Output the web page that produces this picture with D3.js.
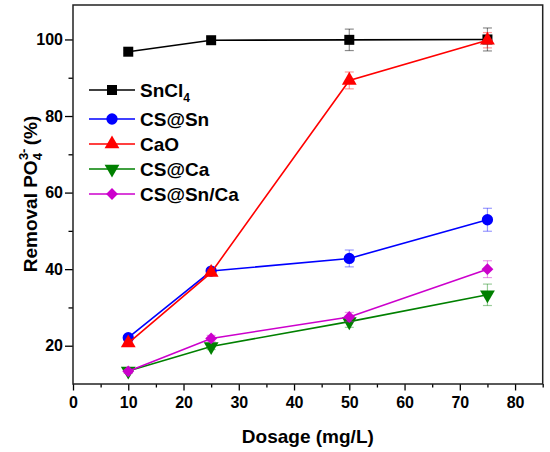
<!DOCTYPE html>
<html>
<head>
<meta charset="utf-8">
<script src="https://cdn.jsdelivr.net/npm/d3@7"></script>
<style>
    body { margin: 0; background: #fff; }
    text { font-family: "Liberation Sans", Arial, sans-serif; font-weight: bold; fill: #000; }
    .axis path { display: none; }
    .axis line { stroke: #000; stroke-width: 1.3; }
</style>
</head>
<body>
<script>
(function () {

    //data
    var dosage = [10, 25, 50, 75];
    var seriesNames = ["SnCl4", "CS@Sn", "CaO", "CS@Ca", "CS@Sn/Ca"];
    var snCl4 = [96.8, 99.8, 99.9, 100];
    var csSn = [22.1, 39.5, 42.8, 52.9];
    var caO = [20.7, 39.1, 89.3, 99.8];
    var csCa = [13.4, 19.8, 26.3, 33.3];
    var csSnCa = [13.3, 21.9, 27.5, 40.0];
    var snCl4Err = [0.4, 0.8, 2.8, 3.0];
    var csSnErr = [0.5, 0.6, 2.2, 3.0];
    var caOErr = [0.5, 0.8, 2.2, 2.0];
    var csCaErr = [0.5, 0.8, 1.5, 2.8];
    var csSnCaErr = [0.5, 0.8, 1.2, 2.2];
    var xTicks = [0, 10, 20, 30, 40, 50, 60, 70, 80];
    var yTicks = [20, 40, 60, 80, 100];

    var values = [snCl4, csSn, caO, csCa, csSnCa];
    var errors = [snCl4Err, csSnErr, caOErr, csCaErr, csSnCaErr];
    var colors = ["#000000", "#0000ff", "#ff0000", "#008000", "#cc00cc"];
    var symbols = [d3.symbolSquare, d3.symbolCircle, d3.symbolTriangle, d3.symbolTriangle, d3.symbolSquare];
    var symbolSizes = [100, 100, 95, 95, 70];
    var rotations = [0, 0, 0, 180, 45];

    var width = 550, height = 452;
    var left = 73, top = 5, right = 542.7, bottom = 384;

    var svg = d3.select("body").append("svg")
        .attr("width", width)
        .attr("height", height);

    var x = d3.scaleLinear().domain([0, 85]).range([left, right]);
    var y = d3.scaleLinear().domain([10, 109]).range([bottom, top]);

    //minor ticks
    svg.append("g").attr("class", "axis")
        .attr("transform", "translate(0," + bottom + ")")
        .call(d3.axisBottom(x).tickValues([5, 15, 25, 35, 45, 55, 65, 75, 85]).tickSize(3.5).tickFormat(""));
    svg.append("g").attr("class", "axis")
        .attr("transform", "translate(" + left + ",0)")
        .call(d3.axisLeft(y).tickValues([30, 50, 70, 90]).tickSize(4.5).tickFormat(""));

    //major ticks
    var xAxis = svg.append("g").attr("class", "axis")
        .attr("transform", "translate(0," + bottom + ")")
        .call(d3.axisBottom(x).tickValues(xTicks).tickSize(6.5).tickPadding(6));
    xAxis.selectAll("text").style("font-size", "16px");

    var yAxis = svg.append("g").attr("class", "axis")
        .attr("transform", "translate(" + left + ",0)")
        .call(d3.axisLeft(y).tickValues(yTicks).tickSize(8).tickPadding(2));
    yAxis.selectAll("text").style("font-size", "16px");

    //frame
    svg.append("rect")
        .attr("x", left).attr("y", top)
        .attr("width", right - left).attr("height", bottom - top)
        .attr("fill", "none")
        .attr("stroke", "#222")
        .attr("stroke-width", 1.5);

    var line = d3.line()
        .x(function (d, i) { return x(dosage[i]); })
        .y(function (d) { return y(d); });

    values.forEach(function (vals, s) {
        var g = svg.append("g");
        var err = errors[s];

        //error bars
        var eb = g.selectAll(".err")
            .data(vals)
            .enter()
            .append("g")
            .attr("stroke", colors[s])
            .attr("stroke-opacity", s == 0 ? 0.45 : 0.4)
            .attr("stroke-width", 1.2);
        eb.append("line")
            .attr("x1", function (d, i) { return x(dosage[i]); })
            .attr("x2", function (d, i) { return x(dosage[i]); })
            .attr("y1", function (d, i) { return y(d - err[i]); })
            .attr("y2", function (d, i) { return y(d + err[i]); });
        [1, -1].forEach(function (sign) {
            eb.append("line")
                .attr("x1", function (d, i) { return x(dosage[i]) - 4.5; })
                .attr("x2", function (d, i) { return x(dosage[i]) + 4.5; })
                .attr("y1", function (d, i) { return y(d + sign * err[i]); })
                .attr("y2", function (d, i) { return y(d + sign * err[i]); });
        });

        g.append("path")
            .datum(vals)
            .attr("fill", "none")
            .attr("stroke", colors[s])
            .attr("stroke-width", 1.6)
            .attr("d", line);

        g.selectAll(".pt")
            .data(vals)
            .enter()
            .append("path")
            .attr("d", d3.symbol().type(symbols[s]).size(symbolSizes[s]))
            .attr("transform", function (d, i) {
                return "translate(" + x(dosage[i]) + "," + y(d) + ") rotate(" + rotations[s] + ")";
            })
            .attr("fill", colors[s]);
    });

    //legend
    var legend = svg.append("g");
    seriesNames.forEach(function (name, s) {
        var ly = s == 0 ? 90 : 119 + (s - 1) * 25;
        legend.append("line")
            .attr("x1", 89).attr("x2", 135)
            .attr("y1", ly).attr("y2", ly)
            .attr("stroke", colors[s])
            .attr("stroke-width", 1.6);
        legend.append("path")
            .attr("d", d3.symbol().type(symbols[s]).size(symbolSizes[s]))
            .attr("transform", "translate(112," + ly + ") rotate(" + rotations[s] + ")")
            .attr("fill", colors[s]);
        var t = legend.append("text")
            .attr("x", 140)
            .attr("y", ly + 6.8)
            .style("font-size", "19px");
        if (name == "SnCl4") {
            t.append("tspan").text("SnCl");
            t.append("tspan").attr("dy", 5).style("font-size", "12px").text("4");
        } else {
            t.text(name);
        }
    });

    //axis titles
    svg.append("text")
        .attr("x", (left + right) / 2)
        .attr("y", 443)
        .attr("text-anchor", "middle")
        .style("font-size", "19px")
        .text("Dosage (mg/L)");

    var yt = svg.append("text")
        .attr("transform", "translate(37,194) rotate(-90)")
        .attr("text-anchor", "middle")
        .style("font-size", "19px");
    yt.append("tspan").text("Removal PO");
    yt.append("tspan").attr("dy", 5).style("font-size", "13px").text("4");
    yt.append("tspan").attr("dy", -14).attr("dx", -7).style("font-size", "13px").text("3-");
    yt.append("tspan").attr("dy", 9).attr("dx", -2).text(" (%)");

})();
</script>
</body>
</html>
